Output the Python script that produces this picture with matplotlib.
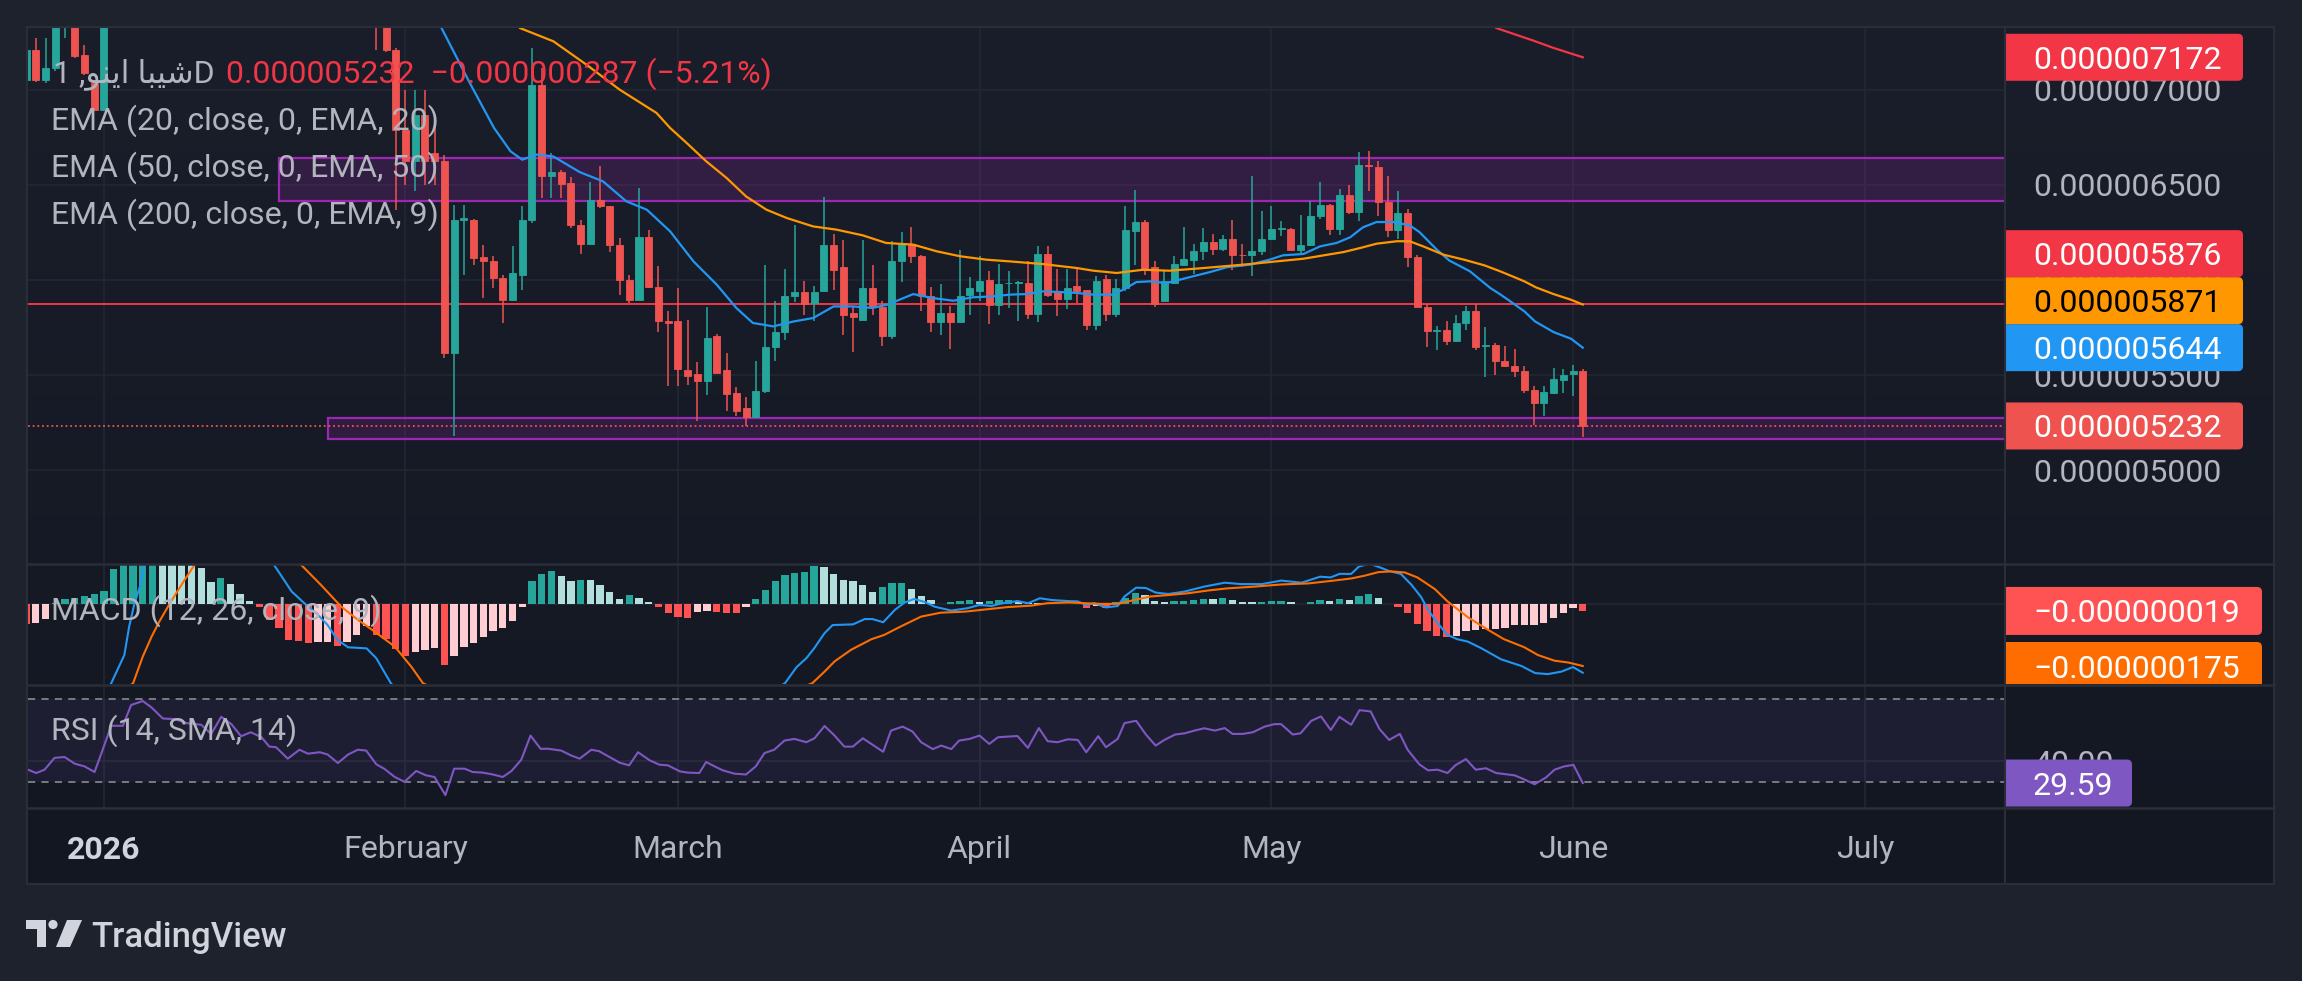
import numpy as np
import pandas as pd
import matplotlib
matplotlib.use("Agg")
import matplotlib.pyplot as plt
from matplotlib.patches import Rectangle, FancyBboxPatch, Polygon, Circle
from matplotlib.colors import LinearSegmentedColormap

W, H = 2302, 981
DAY0 = pd.Timestamp("2026-01-01")

# ---------------- data (prices in units of 1e-6) ----------------
candle_dates = (list(pd.date_range("2025-12-24", "2026-01-01"))
                + list(pd.date_range("2026-01-29", "2026-06-02")))

open_px = [7.05, 7.212, 7.054, 7.116, 7.38, 7.40, 7.186, 7.037, 6.896,
           7.50, 7.40, 7.212, 6.791, 6.625, 6.870, 6.668, 6.625, 5.616, 6.318,
           6.318, 6.119, 6.098, 6.011, 5.896, 6.028, 6.318, 7.028, 6.546, 6.568,
           6.51, 6.291, 6.189, 6.423, 6.388, 6.182, 6.002, 5.896, 6.225, 5.961,
           5.782, 5.782, 5.528, 5.505, 5.467, 5.704, 5.528, 5.405, 5.326, 5.277,
           5.414, 5.646, 5.726, 5.914, 5.935, 5.879, 5.94, 6.182, 6.067, 5.826,
           5.791, 5.958, 5.856, 5.704, 6.102, 6.189, 6.125, 5.914, 5.779, 5.826,
           5.779, 5.923, 5.944, 6.0, 5.867, 5.984, 5.985, 5.984, 5.821, 6.137,
           5.935, 5.902, 5.967, 5.946, 5.765, 6.007, 5.821, 5.958, 6.256, 6.305,
           6.067, 5.891, 5.984, 6.081, 6.107, 6.151, 6.2, 6.165, 6.218, 6.133,
           6.13, 6.151, 6.218, 6.268, 6.268, 6.16, 6.182, 6.335, 6.393, 6.27,
           6.446, 6.358, 6.604, 6.593, 6.411, 6.265, 6.353, 6.119, 5.856, 5.733,
           5.739, 5.681, 5.774, 5.835, 5.651, 5.66, 5.572, 5.546, 5.519, 5.423,
           5.353, 5.405, 5.475, 5.505, 5.519]
high_px = [7.23, 7.274, 7.274, 7.45, 7.50, 7.45, 7.239, 7.04, 7.50,
           7.60, 7.50, 7.22, 7.002, 7.0, 7.0, 6.809, 6.66, 6.396, 6.396,
           6.32, 6.186, 6.125, 6.028, 6.177, 6.388, 7.221, 7.116, 6.668, 6.58,
           6.54, 6.318, 6.516, 6.598, 6.39, 6.221, 6.028, 6.484, 6.265, 6.072,
           5.835, 5.958, 5.791, 5.568, 5.856, 5.716, 5.616, 5.435, 5.382, 5.572,
           6.077, 5.891, 6.06, 6.291, 5.993, 5.967, 6.435, 6.244, 6.212, 5.856,
           6.212, 6.077, 5.891, 6.204, 6.253, 6.277, 6.13, 5.961, 5.979, 5.861,
           6.16, 6.014, 6.125, 6.049, 6.084, 6.046, 5.993, 6.098, 6.177, 6.177,
           6.06, 6.06, 6.06, 5.95, 6.019, 6.025, 6.007, 6.388, 6.475, 6.318,
           6.102, 6.049, 6.125, 6.277, 6.189, 6.274, 6.242, 6.235, 6.318, 6.189,
           6.546, 6.365, 6.388, 6.312, 6.274, 6.34, 6.418, 6.516, 6.40, 6.481,
           6.502, 6.674, 6.681, 6.625, 6.546, 6.47, 6.375, 6.13, 5.874, 5.756,
           5.786, 5.814, 5.861, 5.874, 5.751, 5.668, 5.651, 5.639, 5.546, 5.44,
           5.44, 5.537, 5.533, 5.554, 5.533]
low_px = [7.04, 7.04, 7.037, 7.10, 7.274, 7.17, 7.081, 6.89, 6.89,
          7.212, 7.20, 6.37, 6.502, 6.467, 6.50, 6.502, 5.59, 5.177, 6.028,
          6.081, 5.905, 5.958, 5.774, 5.89, 5.949, 6.30, 6.432, 6.432, 6.432,
          6.274, 6.137, 6.186, 6.379, 6.147, 5.923, 5.879, 5.895, 5.96, 5.726,
          5.44, 5.44, 5.449, 5.26, 5.396, 5.51, 5.309, 5.282, 5.23, 5.274,
          5.405, 5.575, 5.686, 5.884, 5.818, 5.782, 5.94, 5.949, 5.709, 5.621,
          5.79, 5.818, 5.651, 5.69, 5.989, 6.09, 5.839, 5.726, 5.712, 5.639,
          5.778, 5.818, 5.888, 5.768, 5.818, 5.853, 5.786, 5.796, 5.779, 5.909,
          5.809, 5.849, 5.879, 5.739, 5.739, 5.786, 5.804, 5.94, 6.081, 6.028,
          5.856, 5.89, 5.98, 6.077, 6.032, 6.107, 6.133, 6.151, 6.054, 6.067,
          6.019, 6.133, 6.21, 6.23, 6.16, 6.137, 6.18, 6.323, 6.239, 6.239,
          6.347, 6.312, 6.467, 6.335, 6.225, 6.218, 6.067, 5.856, 5.646, 5.633,
          5.66, 5.674, 5.739, 5.633, 5.488, 5.498, 5.54, 5.488, 5.405, 5.239,
          5.282, 5.40, 5.405, 5.388, 5.172]
close_px = [7.21, 7.054, 7.116, 7.40, 7.45, 7.177, 7.089, 6.896, 7.45,
            7.35, 7.212, 6.791, 6.625, 6.870, 6.625, 6.625, 5.616, 6.318, 6.324,
            6.116, 6.098, 6.011, 5.896, 6.037, 6.318, 7.028, 6.546, 6.568, 6.507,
            6.291, 6.189, 6.423, 6.388, 6.182, 6.002, 5.896, 6.225, 5.961, 5.782,
            5.775, 5.533, 5.493, 5.47, 5.695, 5.511, 5.40, 5.312, 5.277, 5.417,
            5.646, 5.726, 5.914, 5.935, 5.874, 5.935, 6.182, 6.054, 5.814, 5.804,
            5.958, 5.856, 5.704, 6.102, 6.189, 6.125, 5.914, 5.779, 5.826, 5.779,
            5.914, 5.958, 5.993, 5.867, 5.979, 5.986, 5.99, 5.821, 6.137, 5.923,
            5.902, 5.958, 5.94, 5.765, 5.993, 5.821, 5.958, 6.265, 6.305, 6.054,
            5.874, 5.996, 6.084, 6.112, 6.151, 6.2, 6.165, 6.218, 6.133, 6.13,
            6.151, 6.218, 6.27, 6.272, 6.16, 6.186, 6.335, 6.393, 6.27, 6.449,
            6.358, 6.604, 6.598, 6.411, 6.265, 6.353, 6.119, 5.856, 5.73, 5.739,
            5.681, 5.774, 5.835, 5.646, 5.66, 5.572, 5.546, 5.519, 5.423, 5.353,
            5.411, 5.481, 5.502, 5.519, 5.232]

# EMA lines: (days since 2026-01-01, value)
ema20_day = [33.5, 34.7, 37.7, 40.1, 41.8, 43.0, 44.5, 46.2, 48.9, 51.3, 53.7, 55.8, 58.2,
             60.6, 63.0, 65.0, 66.7, 68.8, 70.9, 72.9, 75.0, 77.0, 79.0, 80.5, 83.2, 85.2,
             87.3, 89.3, 91.4, 93.1, 94.8, 96.5, 98.2, 100.0, 101.7, 103.7, 105.1, 106.1,
             107.5, 109.2, 111.3, 113.7, 115.4, 117.8, 119.8, 121.2, 123.3, 125.0, 126.7,
             128.1, 129.4, 130.8, 132.5, 134.2, 135.2, 137.0, 138.3, 140.4, 142.5, 143.5,
             144.8, 146.0, 147.1, 149.0, 150.8, 152.0]
ema20_val = [7.55, 7.326, 7.028, 6.80, 6.677, 6.633, 6.66, 6.65, 6.568, 6.519, 6.414, 6.37,
             6.256, 6.098, 5.975, 5.853, 5.774, 5.756, 5.782, 5.80, 5.861, 5.861, 5.853, 5.87,
             5.926, 5.905, 5.891, 5.909, 5.914, 5.923, 5.926, 5.94, 5.937, 5.932, 5.923,
             5.923, 5.958, 5.989, 5.993, 5.984, 6.011, 6.042, 6.067, 6.081, 6.107, 6.13,
             6.137, 6.177, 6.195, 6.225, 6.277, 6.305, 6.305, 6.288, 6.253, 6.16, 6.102,
             6.046, 5.958, 5.925, 5.879, 5.835, 5.782, 5.726, 5.691, 5.644]
ema50_day = [40.5, 42.75, 46.2, 49.6, 53.0, 56.8, 58.2, 59.9, 61.9, 64.0, 66.0, 68.1, 70.2,
             72.9, 75.3, 78.0, 80.4, 83.2, 85.6, 88.0, 90.7, 93.1, 96.5, 100.0, 101.7, 104.1,
             106.8, 109.5, 112.3, 115.1, 117.8, 120.5, 123.3, 125.4, 127.4, 129.1, 130.8,
             132.9, 134.2, 135.6, 137.7, 139.8, 141.9, 143.5, 144.5, 146.0, 147.2, 149.0,
             150.8, 152.0]
ema50_val = [7.6, 7.326, 7.256, 7.133, 7.002, 6.879, 6.80, 6.721, 6.625, 6.537, 6.44, 6.37,
             6.326, 6.282, 6.265, 6.235, 6.195, 6.186, 6.151, 6.125, 6.107, 6.098, 6.084,
             6.063, 6.049, 6.037, 6.054, 6.049, 6.06, 6.072, 6.084, 6.098, 6.112, 6.13,
             6.147, 6.168, 6.191, 6.204, 6.204, 6.177, 6.133, 6.107, 6.077, 6.046, 6.025,
             5.993, 5.961, 5.926, 5.896, 5.871]
ema200_day = [141.0, 143.1, 146.9, 149.0, 152.0]
ema200_val = [7.45, 7.326, 7.26, 7.221, 7.172]

level_line = 5.876
zone_start = ["2026-01-19", "2026-01-24"]
zone_low = [6.416, 5.163]
zone_high = [6.642, 5.274]

# MACD (12, 26, close, 9), units of 1e-6
macd_dates = pd.date_range("2025-12-24", "2026-06-02")
macd_hist = [-0.057, -0.052, -0.042, 0.004, 0.014, 0.019, 0.022, 0.028, 0.038, 0.100,
             0.130, 0.150, 0.160, 0.165, 0.160, 0.150, 0.135, 0.120, 0.102, 0.062,
             0.074, 0.057, 0.030, 0.010, -0.007, -0.044, -0.066, -0.101, -0.103, -0.110,
             -0.108, -0.106, -0.118, -0.106, -0.087, -0.061, -0.087, -0.099, -0.127, -0.146,
             -0.134, -0.131, -0.125, -0.172, -0.148, -0.122, -0.109, -0.092, -0.077, -0.068,
             -0.047, -0.009, 0.066, 0.085, 0.094, 0.080, 0.066, 0.069, 0.069, 0.055,
             0.035, 0.015, 0.026, 0.018, 0.005, -0.008, -0.024, -0.035, -0.038, -0.021,
             -0.018, -0.021, -0.024, -0.024, -0.009, 0.015, 0.041, 0.066, 0.083, 0.089,
             0.092, 0.109, 0.106, 0.086, 0.069, 0.066, 0.055, 0.035, 0.049, 0.060,
             0.061, 0.043, 0.024, 0.012, 0.002, 0.005, 0.009, 0.012, 0.007, 0.009,
             0.012, 0.013, 0.005, 0.004, 0.003, 0.003, 0.002, 0.002, 0.001, -0.011,
             -0.004, -0.011, 0.005, 0.019, 0.033, 0.026, 0.010, 0.005, 0.008, 0.010,
             0.013, 0.015, 0.015, 0.019, 0.012, 0.007, 0.005, 0.007, 0.009, 0.010,
             0.005, 0.002, 0.007, 0.012, 0.009, 0.015, 0.012, 0.024, 0.029, 0.018,
             0.002, -0.007, -0.026, -0.055, -0.077, -0.089, -0.094, -0.089, -0.075, -0.074,
             -0.071, -0.069, -0.066, -0.060, -0.059, -0.058, -0.052, -0.038, -0.024, -0.012,
             -0.019]
macd_day = [-8, -4, 0, 0.75, 2.1, 2.6, 3.15, 3.7, 4.2, 6, 9, 12, 15, 17.5, 19.3, 20.6, 22,
            23, 24, 25.1, 27, 28, 28.8, 29.5, 33, 36, 42, 50, 60, 66, 70, 71.2, 72.2, 73,
            74.07, 74.9, 77, 78.2, 79, 80.1, 81.3, 82.3, 83.3, 84.4, 85.4, 87.1, 88.8, 90,
            91.2, 92.4, 93.9, 95, 96.2, 97.4, 99.1, 100.1, 101, 101.8, 103, 104.2, 104.9,
            106.1, 107.1, 108.1, 109.4, 111.1, 113.1, 115.2, 116.9, 119, 121, 123.1, 125,
            126.1, 127, 128.2, 129, 130.1, 131.1, 132.1, 133.3, 134.4, 135.4, 136.1, 137.1,
            138.1, 139.1, 140.2, 141.6, 143.6, 145.7, 147.1, 148.4, 149.8, 151, 152]
macd_val = [-0.42, -0.38, -0.29, -0.224, -0.144, -0.063, 0.003, 0.05, 0.111, 0.22, 0.27,
            0.24, 0.17, 0.111, 0.036, 0.003, -0.03, -0.059, -0.101, -0.122, -0.125, -0.153,
            -0.191, -0.224, -0.33, -0.42, -0.38, -0.33, -0.32, -0.29, -0.224, -0.178,
            -0.153, -0.125, -0.082, -0.059, -0.057, -0.042, -0.042, -0.051, -0.016, 0.005,
            0.015, 0.006, -0.007, -0.018, -0.011, -0.002, -0.005, 0.003, 0.009, 0.003,
            0.017, 0.012, 0.009, 0.008, -0.002, 0.003, -0.009, -0.005, 0.022, 0.047, 0.046,
            0.033, 0.029, 0.036, 0.05, 0.061, 0.057, 0.057, 0.067, 0.061, 0.078, 0.076,
            0.086, 0.086, 0.107, 0.115, 0.105, 0.094, 0.086, 0.055, 0.02, -0.016, -0.054,
            -0.087, -0.099, -0.106, -0.125, -0.156, -0.175, -0.195, -0.198, -0.191, -0.178,
            -0.194]
signal_day = [-8, -2, 3, 4, 4.9, 5.7, 6.9, 8.3, 9.3, 12, 16, 20.3, 22.3, 24.4, 26.1, 27.8,
              29.9, 31.6, 32.8, 38, 45, 55, 65, 72.8, 74.07, 75.1, 76.8, 78.9, 80.2, 81.9,
              84, 86, 88.5, 90.2, 92.9, 95.3, 97, 99.1, 100.8, 102.5, 104.2, 105.9, 107.6,
              109.4, 111.4, 113.5, 115.5, 118.3, 121, 123.8, 126.1, 128.2, 129.6, 131,
              132.3, 133.7, 135, 136.8, 138.1, 140.2, 142.3, 143.9, 146, 147.4, 149.1,
              150.5, 152]
signal_val = [-0.36, -0.33, -0.224, -0.148, -0.092, -0.049, 0.008, 0.069, 0.111, 0.16, 0.17,
              0.111, 0.055, -0.007, -0.044, -0.077, -0.12, -0.177, -0.224, -0.29, -0.33,
              -0.38, -0.31, -0.224, -0.191, -0.162, -0.129, -0.099, -0.087, -0.063, -0.035,
              -0.024, -0.021, -0.016, -0.008, -0.004, 0.003, 0.005, 0.003, 0.001, 0.001,
              0.012, 0.022, 0.026, 0.031, 0.039, 0.045, 0.05, 0.056, 0.059, 0.066, 0.073,
              0.081, 0.091, 0.093, 0.09, 0.076, 0.043, 0.008, -0.037, -0.073, -0.099, -0.122,
              -0.144, -0.16, -0.165, -0.175]

# RSI (14)
rsi_day = [-7.8, -6.95, -6.1, -5.07, -4.04, -3.0, -1.99, -0.96, -0.27, 0.75, 1.95, 2.8, 4.0,
           4.9, 6.06, 7.3, 8.6, 10.0, 11.03, 12.06, 13.1, 14.1, 15.1, 16.2, 17.0, 17.7, 18.9,
           20.1, 20.97, 22.2, 23.0, 24.05, 25.1, 26.1, 26.96, 28.0, 28.8, 29.9, 30.9, 32.1,
           33.1, 33.98, 35.1, 36.0, 37.07, 37.9, 38.95, 39.98, 41.0, 41.9, 42.9, 43.85, 44.9,
           45.6, 47.0, 48.0, 48.9, 50.1, 50.9, 51.97, 53.0, 53.99, 54.9, 56.1, 57.1, 57.97,
           59.2, 60.0, 61.2, 61.9, 62.77, 63.6, 64.8, 66.0, 67.0, 67.9, 68.9, 69.95, 70.97,
           72.2, 73.04, 74.07, 75.1, 76.1, 76.98, 78.0, 79.04, 80.1, 80.9, 82.1, 83.1, 84.0,
           85.2, 86.06, 87.1, 87.9, 88.98, 90.0, 91.0, 91.9, 92.9, 93.9, 94.97, 96.1, 97.0,
           98.0, 99.08, 100.1, 100.97, 102.2, 103.0, 104.2, 104.9, 106.1, 107.1, 108.1,
           109.0, 110.1, 111.1, 112.1, 113.1, 114.2, 115.2, 116.0, 117.05, 118.1, 119.3,
           120.3, 121.0, 122.2, 123.0, 124.1, 125.1, 126.1, 126.99, 128.2, 129.05, 130.2,
           131.1, 132.1, 133.2, 134.0, 135.2, 136.1, 137.1, 138.1, 138.9, 139.99, 141.0,
           142.05, 143.1, 145.0, 146.0, 147.05, 148.2, 149.1, 150.1, 151.05, 152.0]
rsi_val = [36.0, 34.4, 36.0, 41.7, 42.1, 38.9, 37.6, 34.9, 43.7, 57.1, 57.1, 67.1, 69.0,
           65.9, 60.6, 60.3, 58.3, 57.6, 53.2, 61.4, 57.9, 52.1, 54.0, 51.6, 47.1, 46.8, 41.3,
           45.6, 43.7, 44.4, 43.3, 39.2, 43.3, 45.6, 45.2, 38.6, 36.5, 32.5, 30.2, 35.4,
           33.3, 32.5, 23.8, 36.5, 36.5, 34.9, 34.6, 33.7, 32.5, 35.4, 40.8, 52.4, 46.0,
           46.1, 45.2, 42.9, 41.3, 45.6, 44.9, 42.1, 39.4, 38.1, 44.4, 40.5, 38.4, 38.1,
           35.2, 34.6, 34.4, 39.7, 37.6, 35.7, 34.1, 33.7, 37.6, 44.0, 45.6, 50.0, 50.8,
           49.2, 51.1, 57.0, 52.4, 47.1, 47.1, 51.1, 47.9, 44.6, 54.8, 56.7, 54.4, 49.2,
           45.9, 47.6, 45.9, 50.0, 50.8, 52.4, 48.4, 51.6, 51.9, 52.2, 46.5, 56.0, 49.7,
           49.2, 50.6, 50.3, 44.4, 52.1, 46.8, 50.8, 58.4, 59.5, 52.9, 47.6,
           50.3, 52.9, 53.5, 54.8, 55.9, 54.8, 56.0, 53.2, 53.2, 54.0, 56.7,
           57.9, 57.9, 52.9, 53.5, 59.5, 61.6, 55.1, 61.4, 57.6, 64.6, 64.0,
           55.6, 50.3, 53.2, 45.6, 38.6, 35.7, 36.0, 34.4, 38.1, 41.1, 36.0,
           36.7, 34.4, 33.3, 31.3, 29.0, 32.2, 36.0, 37.6, 38.3, 29.59]

price_ticks = [5.0, 5.5, 6.0, 6.5, 7.0]
rsi_ticks = [40]
month_starts = ["2026-01-01", "2026-02-01", "2026-03-01", "2026-04-01",
                "2026-05-01", "2026-06-01", "2026-07-01"]
month_labels = ["2026", "February", "March", "April", "May", "June", "July"]
title_text = "1 ,ﻮﻨﻳﺍ ﺎﺒﻴﺷD"
title_values = "0.000005232  \u22120.000000287 (\u22125.21%)"
ema_legend = ["EMA (20, close, 0, EMA, 20)", "EMA (50, close, 0, EMA, 50)",
              "EMA (200, close, 0, EMA, 9)"]

# ---------------- style ----------------
OUTER = "#1E222D"
FRAME = "#2A2E39"
GRID = "#232733"
TXT = "#B2B5BE"
UP, DOWN = "#26A69A", "#EF5350"
FONT = ["Roboto", "DejaVu Sans"]
FS = 23


def days_of(dates):
    return np.array([(pd.Timestamp(d) - DAY0).days for d in dates], dtype=float)


def frac(x0, y0, x1, y1):
    return [x0 / W, 1 - y1 / H, (x1 - x0) / W, (y1 - y0) / H]


cdays = days_of(candle_dates)
o, h, l, c = map(np.array, (open_px, high_px, low_px, close_px))
mdays = days_of(macd_dates)
hist = np.array(macd_hist)
mticks = days_of(month_starts)
X0, X1 = -7.8, 195.4

fig = plt.figure(figsize=(W / 100, H / 100), dpi=100, facecolor=OUTER)

bg = fig.add_axes(frac(27, 27, 2274, 884), zorder=-5)
bg.imshow(np.linspace(0, 1, 256)[:, None], aspect="auto",
          cmap=LinearSegmentedColormap.from_list("bg", ["#1A1E2A", "#131722"]))
bg.set_axis_off()

ax = fig.add_axes(frac(28, 28, 2005, 563))
axm = fig.add_axes(frac(28, 564, 2005, 684))
axr = fig.add_axes(frac(28, 685, 2005, 808))
for a in (ax, axm, axr):
    a.set_facecolor("none")
    a.set_xlim(X0, X1)
    a.set_xticks([])
    a.set_yticks([])
    for s in a.spines.values():
        s.set_visible(False)
    for m in mticks:
        a.axvline(m, color=GRID, lw=1.2, zorder=0)
ax.set_ylim(4.511, 7.326)
axm.set_ylim(-0.226, 0.114)
axr.set_ylim(17.6, 76.7)

# ---- price pane ----
for p in price_ticks:
    ax.axhline(p, color=GRID, lw=1.2, zorder=0)
for s, lo, hi in zip(zone_start, zone_low, zone_high):
    ax.add_patch(Rectangle(((pd.Timestamp(s) - DAY0).days, lo), 400, hi - lo,
                           facecolor=(156 / 255, 39 / 255, 176 / 255, 0.2),
                           edgecolor="#9C27B0", lw=1.6, zorder=1))
ax.axhline(level_line, color="#F23645", lw=1.4, zorder=2)
ax.axhline(close_px[-1], color="#EF5350", lw=1.3, ls=(0, (1, 1.6)), zorder=2)

cols = np.where(c >= o, UP, DOWN)
ax.vlines(cdays, l, h, colors=cols, lw=1.1, zorder=4)
ax.bar(cdays, c - o, bottom=o, width=0.72, color=cols, edgecolor=cols, lw=0.6, zorder=5)

ax.plot(ema20_day, ema20_val, color="#2196F3", lw=1.6, zorder=6)
ax.plot(ema50_day, ema50_val, color="#FF9800", lw=1.6, zorder=6)
ax.plot(ema200_day, ema200_val, color="#F23645", lw=1.6, zorder=6)

# ---- MACD pane ----
axm.axhline(0, color=GRID, lw=1.2, zorder=0)
prev = np.concatenate([[hist[0]], hist[:-1]])
hcols = np.where(hist >= 0, np.where(prev < hist, "#26A69A", "#B2DFDB"),
                 np.where(prev < hist, "#FFCDD2", "#FF5252"))
axm.bar(mdays, hist, width=0.75, color=hcols, zorder=2)
axm.plot(macd_day, macd_val, color="#2196F3", lw=1.5, zorder=3)
axm.plot(signal_day, signal_val, color="#FF6D00", lw=1.5, zorder=3)

# ---- RSI pane ----
axr.axhline(40, color=GRID, lw=1.2, zorder=0)
axr.axhspan(30, 70, color=(126 / 255, 87 / 255, 194 / 255, 0.1), lw=0, zorder=1)
for lvl in (70, 30):
    axr.axhline(lvl, color="#787B86", lw=1.4, ls=(0, (3.7, 3.2)), zorder=2)
axr.plot(rsi_day, rsi_val, color="#7E57C2", lw=1.5, zorder=3)


# ---- right scales ----
def ypix(a, v):
    return H - a.transData.transform((0, v))[1]


def scale_axes(y0, y1):
    sa = fig.add_axes(frac(2005, y0, 2274, y1))
    sa.set_xlim(0, 269)
    sa.set_ylim(y1, y0)
    sa.set_axis_off()
    return sa


def tick_text(sa, src, values, fmt):
    for v in values:
        sa.text(28, ypix(src, v), fmt(v), color=TXT, fontsize=FS, family=FONT,
                va="center_baseline", ha="left", zorder=2, clip_on=True)


def value_labels(sa, src, items, box_w, box_h=47):
    last = None
    for v, txt, bgc, fgc in sorted(items, key=lambda t: t[0]):
        y = ypix(src, v)
        if last is not None and y > last - box_h:
            y = last - box_h
        last = y
        sa.add_patch(FancyBboxPatch((-12, y - box_h / 2), box_w + 12, box_h,
                                    boxstyle="round,pad=0,rounding_size=5",
                                    fc=bgc, ec="none", zorder=3))
        sa.text(28, y, txt, color=fgc, fontsize=FS, family=FONT,
                va="center_baseline", ha="left", zorder=4, clip_on=True)


def fmt_price(v):
    return f"{v * 1e-6:.9f}".replace("-", "\u2212")


sp = scale_axes(28, 563)
tick_text(sp, ax, price_ticks, fmt_price)
value_labels(sp, ax, [
    (ema200_val[-1], fmt_price(ema200_val[-1]), "#F23645", "white"),
    (level_line, fmt_price(level_line), "#F23645", "white"),
    (ema50_val[-1], fmt_price(ema50_val[-1]), "#FF9800", "black"),
    (ema20_val[-1], fmt_price(ema20_val[-1]), "#2196F3", "white"),
    (close_px[-1], fmt_price(close_px[-1]), "#EF5350", "white"),
], 238)

sm = scale_axes(564, 684)
value_labels(sm, axm, [
    (macd_hist[-1], fmt_price(macd_hist[-1]), "#FF5252", "white"),
    (signal_val[-1], fmt_price(signal_val[-1]), "#FF6D00", "white"),
], 257, 48)

sr = scale_axes(685, 808)
tick_text(sr, axr, rsi_ticks, lambda v: f"{v:.2f}")
value_labels(sr, axr, [(rsi_val[-1], f"{rsi_val[-1]:.2f}", "#7E57C2", "white")], 127)

# ---- overlay: frame, legends, time axis, logo ----
ov = fig.add_axes([0, 0, 1, 1], zorder=5)
ov.set_xlim(0, W)
ov.set_ylim(H, 0)
ov.set_axis_off()
ov.patch.set_alpha(0)

ov.plot([27, 2274, 2274, 27, 27], [27, 27, 884, 884, 27], color=FRAME, lw=1.5)
for yy in (563.5, 684.5, 808):
    ov.plot([27, 2274], [yy, yy], color=FRAME, lw=1.8)
ov.plot([2005, 2005], [27, 884], color=FRAME, lw=1.5)

ov.text(53, 70, title_text, color=TXT, fontsize=FS, family=FONT, va="center_baseline")
ov.text(226, 70, title_values, color="#F23645", fontsize=FS, family=FONT,
        va="center_baseline")
for i, t in enumerate(ema_legend):
    ov.text(51, 117 + 47 * i, t, color=TXT, fontsize=FS, family=FONT, va="center_baseline")
ov.text(51, 607, "MACD (12, 26, close, 9)", color=TXT, fontsize=FS, family=FONT,
        va="center_baseline")
ov.text(51, 727, "RSI (14, SMA, 14)", color=TXT, fontsize=FS, family=FONT,
        va="center_baseline")

for m, lab in zip(mticks, month_labels):
    xp = ax.transData.transform((m, 0))[0]
    bold = lab.isdigit()
    ov.text(xp, 847, lab, color="#D1D4DC" if bold else TXT, fontsize=FS, family=FONT,
            fontweight="bold" if bold else "normal", ha="center", va="center_baseline")

LOGO = "#D1D4DC"
ov.add_patch(Polygon([(26, 920), (46, 920), (46, 947), (37, 947), (37, 929), (26, 929)],
                     closed=True, fc=LOGO, ec="none"))
ov.add_patch(Circle((53, 924.5), 4.6, fc=LOGO, ec="none"))
ov.add_patch(Polygon([(67, 920), (82, 920), (70, 947), (56, 947)], closed=True,
                     fc=LOGO, ec="none"))
ov.text(91, 934, "TradingView", color=LOGO, fontsize=25, family=FONT,
        fontweight="medium", va="center_baseline")

fig.savefig("out.png", dpi=100, facecolor=OUTER)
